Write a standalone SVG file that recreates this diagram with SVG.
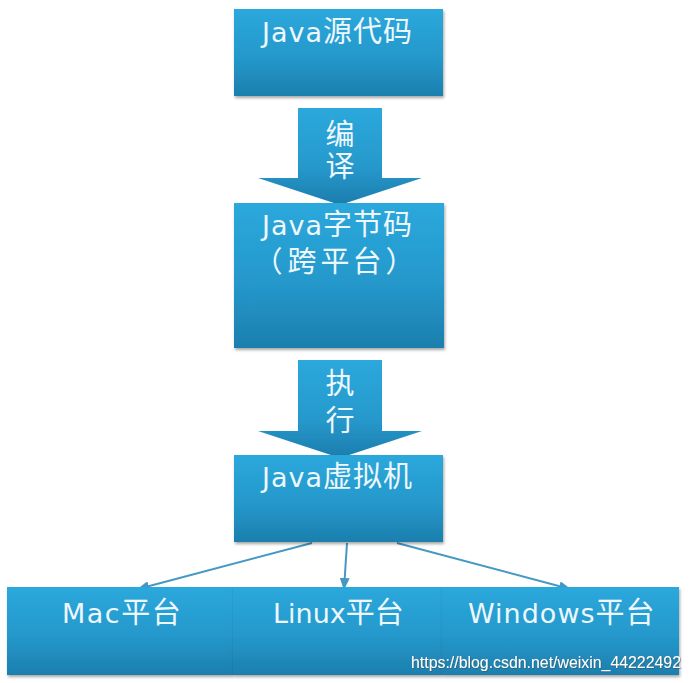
<svg xmlns="http://www.w3.org/2000/svg" width="692" height="683" viewBox="0 0 692 683">
  <defs>
    <linearGradient id="boxGrad" x1="0" y1="0" x2="0" y2="1">
      <stop offset="0" stop-color="#2ba8dc"/>
      <stop offset="0.55" stop-color="#2598cb"/>
      <stop offset="1" stop-color="#1c7fae"/>
    </linearGradient>
    <linearGradient id="arrowGrad" x1="0" y1="0" x2="0" y2="1">
      <stop offset="0" stop-color="#2ba8dc"/>
      <stop offset="0.6" stop-color="#2699cc"/>
      <stop offset="1" stop-color="#1b7dad"/>
    </linearGradient>
    <filter id="shadow" x="-5%" y="-5%" width="112%" height="120%">
      <feDropShadow dx="1" dy="2" stdDeviation="1.5" flood-color="#000" flood-opacity="0.35"/>
    </filter>
    <filter id="wmShadow" x="-5%" y="-30%" width="110%" height="160%">
      <feDropShadow dx="0.6" dy="0.6" stdDeviation="0.6" flood-color="#444" flood-opacity="0.8"/>
    </filter>
    <marker id="tri" markerWidth="12" markerHeight="10" refX="11" refY="5" orient="auto" markerUnits="userSpaceOnUse">
      <path d="M0,0 L12,5 L0,10 Z" fill="#4598c4"/>
    </marker>
  </defs>
  <style>
    .box { fill: url(#boxGrad); filter: url(#shadow); }
    .arr { fill: url(#arrowGrad); }
    .lbl { font-family: "DejaVu Sans", "Noto Sans CJK SC", sans-serif; font-size: 27px; fill: #eef7fc; letter-spacing: 1px; }
    .cjk { font-family: "Noto Sans CJK SC", sans-serif; font-size: 29px; }
    .vlbl { font-family: "Noto Sans CJK SC", sans-serif; font-size: 29px; fill: #eef7fc; text-anchor: middle; }
    .conn { stroke: #4598c4; stroke-width: 2; fill: none; marker-end: url(#tri); }
    .wm { font-family: "Liberation Sans", Arial, sans-serif; font-size: 16.5px; fill: #ffffff; filter: url(#wmShadow); }
  </style>

  <g id="connectors">
    <path id="arrow-compile" class="arr" d="M298,108 L382,108 L382,178 L422,178 L340,205 L258,178 L298,178 Z"/>
    <path id="arrow-execute" class="arr" d="M298,360 L382,360 L382,431 L422,431 L340,458 L258,431 L298,431 Z"/>
    <text class="vlbl" x="340" y="145">编<tspan x="340" dy="32">译</tspan></text>
    <text class="vlbl" x="340" y="394">执<tspan x="340" dy="37">行</tspan></text>
    <line class="conn" x1="312" y1="543" x2="138" y2="589"/>
    <line class="conn" x1="347" y1="543" x2="344" y2="589"/>
    <line class="conn" x1="397" y1="543" x2="570" y2="589"/>
  </g>

  <g id="node-source">
    <rect class="box" x="234" y="9" width="209" height="87"/>
    <text class="lbl" x="262" y="42">Java<tspan class="cjk">源代码</tspan></text>
  </g>

  <g id="node-bytecode">
    <rect class="box" x="234" y="203" width="210" height="145"/>
    <text class="lbl" x="262" y="235">Java<tspan class="cjk">字节码</tspan><tspan class="cjk" x="268 302 335 367 400" y="272" text-anchor="middle" style="letter-spacing:0">（跨平台）</tspan></text>
  </g>

  <g id="node-jvm">
    <rect class="box" x="234" y="455" width="209" height="87"/>
    <text class="lbl" x="262" y="487">Java<tspan class="cjk">虚拟机</tspan></text>
  </g>

  <g id="node-mac">
    <rect class="box" x="7" y="587" width="226" height="88"/>
    <text class="lbl" x="62" y="623" style="letter-spacing:1.5px">Mac<tspan class="cjk">平台</tspan></text>
  </g>

  <g id="node-linux">
    <rect class="box" x="233" y="587" width="209" height="88"/>
    <text class="lbl" x="273" y="623" style="letter-spacing:0">Linux<tspan class="cjk">平台</tspan></text>
  </g>

  <g id="node-windows">
    <rect class="box" x="442" y="587" width="237" height="88"/>
    <text class="lbl" x="468" y="623" style="letter-spacing:1px">Windows<tspan class="cjk">平台</tspan></text>
  </g>

  <text class="wm" x="411" y="668" textLength="270" lengthAdjust="spacingAndGlyphs">https://blog.csdn.net/weixin_44222492</text>
</svg>
